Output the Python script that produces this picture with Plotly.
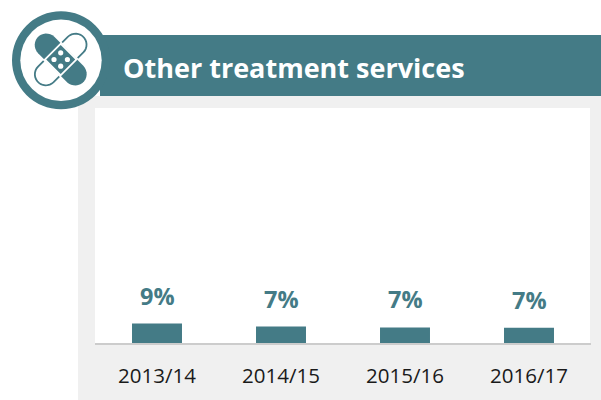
import numpy as np
import plotly.graph_objects as go

title = "Other treatment services"
categories = ["2013/14", "2014/15", "2015/16", "2016/17"]
values = [8.6, 7.3, 6.9, 6.8]
labels = ["9%", "7%", "7%", "7%"]

TEAL = "#447b86"
PANEL = "#f0f0f0"
W, H = 601, 400


def X(p):
    return p / W


def Y(p):
    return 1 - p / H


def path_from(points):
    return "M " + " L ".join(f"{X(a):.5f},{Y(b):.5f}" for a, b in points) + " Z"


def rect(x0, y0, x1, y1, color):
    return dict(type="rect", xref="paper", yref="paper", x0=X(x0), x1=X(x1), y0=Y(y0), y1=Y(y1),
                fillcolor=color, line_width=0, layer="below")


def circle(cx, cy, r, color, layer="above"):
    return dict(type="circle", xref="paper", yref="paper", x0=X(cx - r), x1=X(cx + r),
                y0=Y(cy + r), y1=Y(cy - r), fillcolor=color, line_width=0, layer=layer)


def rot(u, v, cx, cy, deg):
    t = np.radians(deg)
    return cx + u * np.cos(t) - v * np.sin(t), cy + u * np.sin(t) + v * np.cos(t)


def capsule(cx, cy, half_len, half_w, deg):
    core = half_len - half_w
    pts = []
    for a in np.linspace(-90, 90, 16):
        pts.append((core + half_w * np.cos(np.radians(a)), half_w * np.sin(np.radians(a))))
    for a in np.linspace(90, 270, 16):
        pts.append((-core + half_w * np.cos(np.radians(a)), half_w * np.sin(np.radians(a))))
    return [rot(u, v, cx, cy, deg) for u, v in pts]


def icon_path(points, fill, line=None, width=0):
    return dict(type="path", xref="paper", yref="paper", path=path_from(points), fillcolor=fill,
                line=dict(color=line or fill, width=width), layer="above")


ICX, ICY = 60.7, 59.5
icon = [
    circle(61, 60.3, 49, TEAL),
    circle(61, 60.3, 40.7, "white"),
    # outlined plaster
    icon_path(capsule(ICX, ICY, 32, 11, -45), "white", TEAL, 1.8),
    # white cross-over separator and filled plaster
    icon_path(capsule(ICX, ICY, 32.5, 13, 45), "white"),
    icon_path(capsule(ICX, ICY, 32, 11.5, 45), TEAL),
    # central pad
    icon_path([(ICX, ICY - 17), (ICX + 17, ICY), (ICX, ICY + 17), (ICX - 17, ICY)], "white"),
    icon_path([(ICX, ICY - 14.5), (ICX + 14.5, ICY), (ICX, ICY + 14.5), (ICX - 14.5, ICY)], TEAL),
    circle(ICX, ICY - 6.7, 2.6, "white"),
    circle(ICX, ICY + 6.7, 2.6, "white"),
    circle(ICX - 6.7, ICY, 2.6, "white"),
    circle(ICX + 6.7, ICY, 2.6, "white"),
]

fig = go.Figure(go.Bar(x=categories, y=values, marker=dict(color=TEAL, line_width=0), width=0.403,
                       hoverinfo="skip"))

annotations = [
    dict(x=c, y=v, text=f"<b>{t}</b>", xref="x", yref="y", showarrow=False, yanchor="bottom",
         yshift=10, font=dict(family="Open Sans", size=23.5, color=TEAL))
    for c, v, t in zip(categories, values, labels)
]
annotations.append(dict(x=X(121), y=Y(67), xref="paper", yref="paper", xanchor="left", yanchor="middle",
                        showarrow=False, text=f"<b>{title}</b>",
                        font=dict(family="Open Sans", size=27, color="white")))

fig.update_layout(
    width=W, height=H, autosize=False,
    margin=dict(l=0, r=0, t=0, b=0),
    paper_bgcolor="white", plot_bgcolor="white",
    showlegend=False,
    shapes=[rect(78, 96, 601, 400, PANEL), rect(100, 35, 601, 96, TEAL),
            rect(95, 108, 590, 343, "white")] + icon,
    annotations=annotations,
    xaxis=dict(domain=[X(95), X(591)], anchor="y", showline=True, linecolor="#cccccc", linewidth=2,
               showgrid=False, ticks="outside", ticklen=13, tickcolor="rgba(0,0,0,0)",
               tickfont=dict(family="Open Sans", size=20.5, color="#1a1a1a"), fixedrange=True),
    yaxis=dict(domain=[Y(343), Y(108)], range=[0, 104], visible=False, fixedrange=True),
)

fig.write_html("out.html", config=dict(displayModeBar=False),
               post_script="document.body.style.margin='0';")
